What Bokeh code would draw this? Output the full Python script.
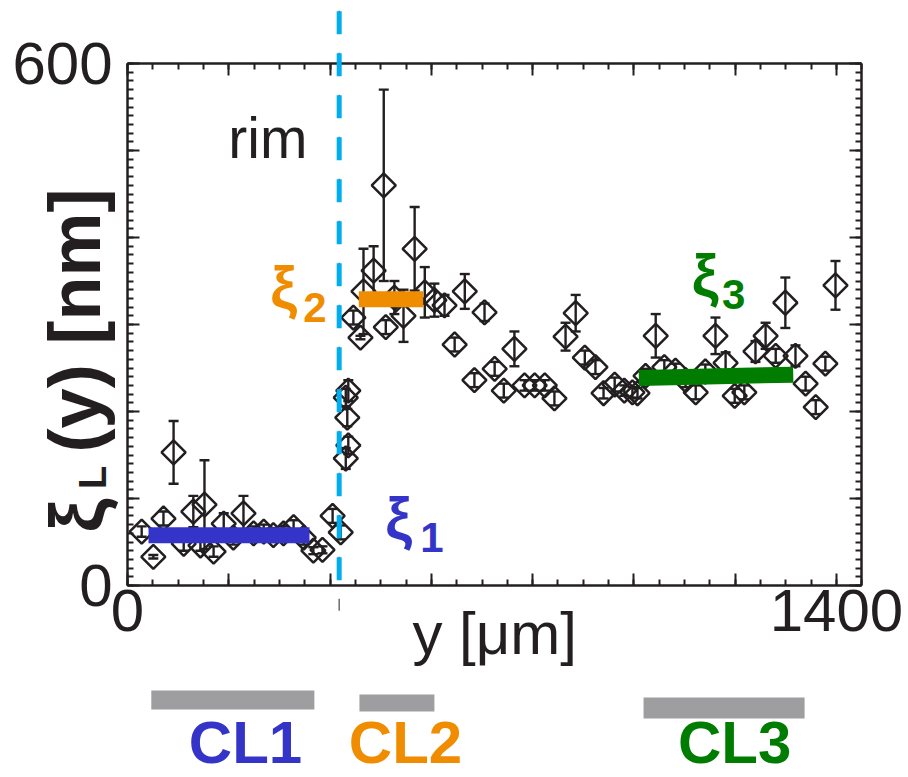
import numpy as np
from bokeh.plotting import figure
from bokeh.models import (Range1d, FixedTicker, LinearAxis, Label, Arrow,
                          Whisker, TeeHead, ColumnDataSource)
from bokeh.embed import file_html
from bokeh.resources import INLINE

# ---- data -----------------------------------------------------------------
# position across the sample (µm)
y_pos = [28, 51, 71, 91, 111, 130, 144, 152, 170, 190, 209, 229, 249, 269, 288,
         308, 328, 348, 367, 385, 405, 421, 431, 436, 434, 431, 436, 446, 460,
         466, 486, 506, 510, 527, 545, 567, 587, 606, 626, 646, 666, 685, 705,
         725, 743, 764, 784, 804, 824, 843, 865, 885, 903, 924, 940, 962, 981,
         997, 1007, 1023, 1043, 1060, 1082, 1102, 1122, 1141, 1161, 1181, 1199,
         1218, 1240, 1260, 1280, 1299, 1319, 1339, 1359, 1378, 1398]
# correlation length xi_L (nm)
xi_L = [62, 33, 77, 153, 48, 85, 46, 93, 39, 71, 55, 83, 60, 62, 58,
        60, 67, 55, 40, 41, 80, 61, 146, 161, 193, 216, 224, 308, 285,
        338, 362, 460, 297, 331, 310, 387, 337, 328, 322, 277, 338, 236, 314,
        249, 224, 272, 230, 230, 230, 215, 286, 313, 262, 251, 221, 231, 224,
        222, 221, 241, 287, 251, 247, 236, 222, 246, 287, 256, 218,
        222, 269, 287, 264, 325, 264, 232, 205, 255, 345]
# uncertainty of xi_L (nm)
xi_err = [6, 2, 8, 36, 8, 18, 6, 51, 6, 12, 8, 20, 8, 8, 8,
          8, 8, 8, 4, 4, 8, 8, 12, 10, 10, 10, 12, 8, 2,
          49, 28, 110, 8, 19, 30, 48, 29, 19, 12, 8, 20, 8, 10,
          8, 8, 20, 6, 6, 6, 8, 16, 21, 8, 8, 6, 8, 6,
          6, 6, 8, 25, 8, 8, 8, 8, 8, 21, 12, 8,
          8, 12, 15, 8, 29, 12, 8, 8, 8, 28]

# plateau levels xi_1, xi_2, xi_3 (start/end position in µm, level in nm)
level_x0 = [41.5, 456.7, 1009.7]
level_x1 = [359.4, 583.9, 1314.6]
level_v0 = [57.8, 329.0, 238.5]
level_v1 = [57.8, 329.0, 242.3]

# rim position (µm)
rim_pos = 418

# coherence-length regions CL1..CL3 (µm)
cl_names = ["CL1", "CL2", "CL3"]
cl_start = [47, 458, 1019]
cl_end = [369, 606, 1337]

# axis ticks
x_major = list(range(0, 1401, 200))
x_minor = list(range(0, 1451, 50))
v_major = list(range(0, 601, 100))
v_minor = list(range(0, 601, 10))
x_labels = {0: "0", 1400: "1400"}
v_labels = {0: "0", 600: "600"}
X_END, V_END = 1450, 600

# ---- styles ---------------------------------------------------------------
INK = "#231f20"
BLUE = "#3434c8"
ORANGE = "#f08c00"
GREEN = "#007d00"
CYAN = "#00aeef"
GREY_BAR = "#9e9ea0"
FONT = "Liberation Sans"
level_colors = [BLUE, ORANGE, GREEN]
cl_colors = [BLUE, ORANGE, GREEN]

# ---- canvas: the data frame fills the whole picture, axes sit inside it -----
W, H = 908, 777
PX0, PX1 = 127, 836          # pixel columns of y = 0 and y = 1400 µm
PV0, PV1 = 585, 63           # pixel rows of 0 nm and 600 nm
sx = (PX1 - PX0) / 1400.0
sv = (PV0 - PV1) / 600.0
x_range = Range1d(-PX0 / sx, (W - PX0) / sx)
v_range = Range1d((PV0 - H) / sv, PV0 / sv)

p = figure(width=W, height=H, x_range=x_range, y_range=v_range,
           output_backend="svg", toolbar_location=None,
           min_border_left=0, min_border_right=0,
           min_border_top=0, min_border_bottom=0,
           x_axis_location=None, y_axis_location=None)
p.grid.visible = False
p.outline_line_color = None
p.background_fill_color = "white"
p.border_fill_color = "white"


def make_axis(ticker, labels, standoff, where, bounds):
    ax = LinearAxis(fixed_location=where, bounds=bounds, ticker=ticker)
    ax.axis_line_color = INK
    ax.axis_line_width = 2.5
    ax.major_tick_line_color = INK
    ax.minor_tick_line_color = INK
    ax.major_tick_line_width = 2
    ax.minor_tick_line_width = 2
    ax.major_tick_in = 12
    ax.major_tick_out = 0
    ax.minor_tick_in = 6
    ax.minor_tick_out = 0
    ax.major_label_standoff = standoff
    ax.major_label_text_font = FONT
    ax.major_label_text_color = INK
    ax.major_label_text_font_size = "60px" if labels else "0px"
    ax.major_label_overrides = {t: labels.get(t, "") for t in ticker.ticks}
    return ax


xt = lambda: FixedTicker(ticks=x_major, minor_ticks=x_minor)
vt = lambda: FixedTicker(ticks=v_major, minor_ticks=v_minor)
p.add_layout(make_axis(xt(), x_labels, 4, 0, (0, X_END)), "below")
p.add_layout(make_axis(xt(), {}, 0, V_END, (0, X_END)), "above")
p.add_layout(make_axis(vt(), v_labels, 15, 0, (0, V_END)), "left")
p.add_layout(make_axis(vt(), {}, 0, X_END, (0, V_END)), "right")

# error bars
src = ColumnDataSource(dict(x=y_pos, v=xi_L,
                            lo=[v - e for v, e in zip(xi_L, xi_err)],
                            hi=[v + e for v, e in zip(xi_L, xi_err)]))
p.add_layout(Whisker(source=src, base="x", lower="lo", upper="hi", dimension="height",
                     line_color=INK, line_width=2.4,
                     lower_head=TeeHead(size=10, line_color=INK, line_width=2.4),
                     upper_head=TeeHead(size=10, line_color=INK, line_width=2.4)))

# hollow diamonds
p.scatter("x", "v", source=src, marker="square", angle=np.pi / 4, size=17,
          fill_color=None, line_color=INK, line_width=2.5)

# plateau levels
p.segment(x0=level_x0, y0=level_v0, x1=level_x1, y1=level_v1,
          line_color=level_colors, line_width=16, line_cap="butt")

# rim marker: thin grey dashed guide with a cyan dashed overlay
p.add_layout(Arrow(end=None, x_start=rim_pos, y_start=672, x_end=rim_pos, y_end=-35,
                   line_color="#6d6d6d", line_width=1.5, line_dash="12 30",
                   line_dash_offset=-10))
p.add_layout(Arrow(end=None, x_start=rim_pos, y_start=660, x_end=rim_pos, y_end=0,
                   line_color=CYAN, line_width=5, line_dash="23 19"))


def txt(x, y, s, size, color=INK, bold=False, angle=0.0, align="left"):
    p.add_layout(Label(x=x, y=y, text=s, text_font=FONT, text_font_size=size,
                       text_color=color, text_font_style="bold" if bold else "normal",
                       angle=angle, text_align=align, text_baseline="alphabetic"))


txt(199, 514, "rim", "57px")
txt(725, -55, "y [μm]", "60px", align="center")

# vertical axis title  xi_L(y) [nm]
txt(-101, 61, "ξ", "76px", bold=True, angle=np.pi / 2)
txt(-68, 111, "L", "38px", bold=True, angle=np.pi / 2)
txt(-103, 153, "(y) [nm]", "72px", bold=True, angle=np.pi / 2)

# plateau names
txt(509, 77, "ξ", "60px", BLUE, bold=True)
txt(578, 55, "1", "42px", BLUE, bold=True)
txt(282, 343, "ξ", "60px", ORANGE, bold=True)
txt(347, 319, "2", "42px", ORANGE, bold=True)
txt(1114, 356, "ξ", "60px", GREEN, bold=True)
txt(1174, 334, "3", "42px", GREEN, bold=True)

# ---- region bars beneath the axis -------------------------------------------
bar_top = [-120.7, -125.3, -128.7]
bar_bottom = [-142.5, -144.8, -152.9]
cl_label_x = [233, 549, 1199]
p.quad(left=cl_start, right=cl_end, top=bar_top, bottom=bar_bottom,
       fill_color=GREY_BAR, line_color=None)
for name, lx, c in zip(cl_names, cl_label_x, cl_colors):
    txt(lx, -181, name, "60px", c, bold=True, align="center")

open("out.html", "w").write(file_html(p, INLINE))
